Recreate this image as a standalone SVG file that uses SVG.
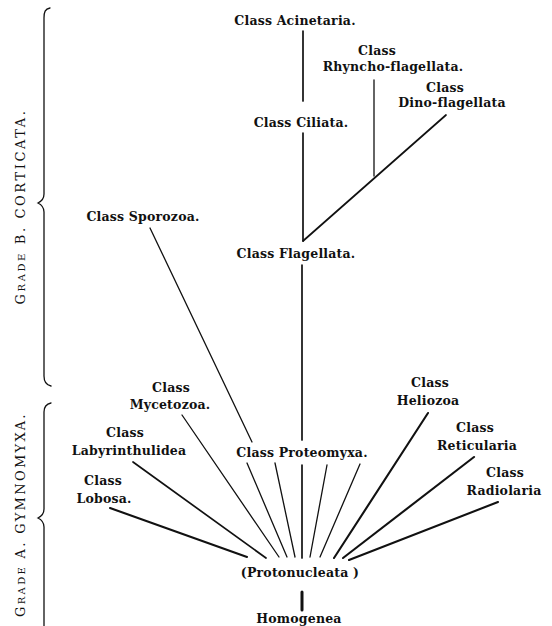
<svg xmlns="http://www.w3.org/2000/svg" width="552" height="626" viewBox="0 0 552 626">
<style>
text{font-family:"DejaVu Serif","Liberation Serif",serif;font-size:12.5px;font-weight:bold;letter-spacing:0.2px;fill:#111;text-anchor:middle}
.g{font-size:13px;font-weight:normal;letter-spacing:1.5px}
.sc{font-size:10px}
line,path{stroke:#111;fill:none;stroke-linecap:round}
.t{stroke-width:1.3}
.m{stroke-width:1.7}
.k{stroke-width:2.1}
</style>
<rect width="552" height="626" fill="#fff"/>
<g id="grades">
<path class="t" d="M50,8 C45,9 44,12 44,18 L44,194 C44,199 42,201 38,203 C42,205 44,207 44,212 L44,376 C44,382 46,385 51,386"/>
<path class="t" d="M51,403 C46,404 44,407 44,412 L44,509 C44,514 42,516 38,518 C42,520 44,522 44,527 L44,626"/>
<text class="g" transform="translate(25,207) rotate(-90)" textLength="195" lengthAdjust="spacing">G<tspan class="sc">RADE</tspan> B. CORTICATA.</text>
<text class="g" transform="translate(25,515) rotate(-90)" textLength="204" lengthAdjust="spacing">G<tspan class="sc">RADE</tspan> A. GYMNOMYXA.</text>
</g>
<g id="connectors">
<line class="m" x1="303" y1="31" x2="303" y2="101"/>
<line class="m" x1="303" y1="133" x2="303" y2="241"/>
<line class="t" x1="374" y1="80" x2="374" y2="176"/>
<line class="m" x1="446" y1="115" x2="303" y2="241"/>
<line class="m" x1="302" y1="265" x2="302" y2="440"/>
<line class="t" x1="150" y1="228" x2="252" y2="442"/>
<line class="k" x1="110" y1="508" x2="247" y2="557"/>
<line class="m" x1="133" y1="462" x2="266" y2="558"/>
<line class="t" x1="182" y1="415" x2="279" y2="557"/>
<line class="t" x1="247" y1="463" x2="287" y2="557"/>
<line class="t" x1="275" y1="463" x2="295" y2="557"/>
<line class="m" x1="302" y1="465" x2="302" y2="558"/>
<line class="t" x1="327" y1="465" x2="310" y2="557"/>
<line class="t" x1="360" y1="464" x2="320" y2="557"/>
<line class="k" x1="428" y1="413" x2="334" y2="558"/>
<line class="k" x1="474" y1="457" x2="343" y2="558"/>
<line class="k" x1="498" y1="502" x2="349" y2="560"/>
<line stroke-width="3" x1="302" y1="592" x2="302" y2="610"/>
</g>
<g id="acinetaria"><text x="295" y="25">Class Acinetaria.</text></g>
<g id="rhyncho"><text x="377" y="55">Class</text><text x="393" y="71">Rhyncho-flagellata.</text></g>
<g id="dino"><text x="445" y="92">Class</text><text x="452" y="107">Dino-flagellata</text></g>
<g id="ciliata"><text x="301" y="127">Class Ciliata.</text></g>
<g id="sporozoa"><text x="143" y="221">Class Sporozoa.</text></g>
<g id="flagellata"><text x="296" y="258">Class Flagellata.</text></g>
<g id="mycetozoa"><text x="171" y="392">Class</text><text x="170" y="409">Mycetozoa.</text></g>
<g id="heliozoa"><text x="430" y="387">Class</text><text x="428" y="405">Heliozoa</text></g>
<g id="labyrinthulidea"><text x="125" y="437">Class</text><text x="129" y="455">Labyrinthulidea</text></g>
<g id="proteomyxa"><text x="302" y="457">Class Proteomyxa.</text></g>
<g id="reticularia"><text x="475" y="432">Class</text><text x="477" y="450">Reticularia</text></g>
<g id="lobosa"><text x="103" y="485">Class</text><text x="104" y="503">Lobosa.</text></g>
<g id="radiolaria"><text x="505" y="477">Class</text><text x="504" y="495">Radiolaria</text></g>
<g id="protonucleata"><text x="300" y="577">(Protonucleata )</text></g>
<g id="homogenea"><text x="299" y="623">Homogenea</text></g>
</svg>
